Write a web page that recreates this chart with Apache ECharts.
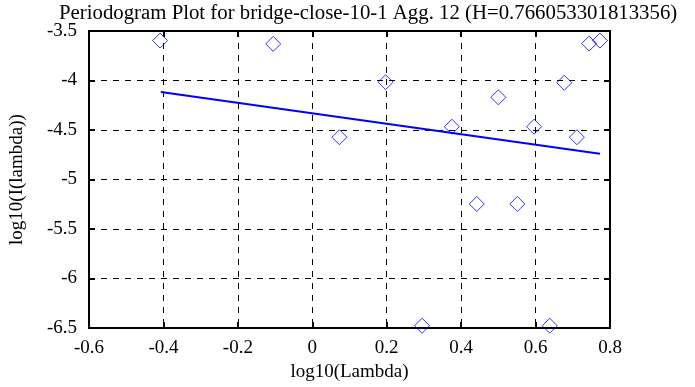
<!DOCTYPE html>
<html><head><meta charset="utf-8">
<script src="https://cdn.jsdelivr.net/npm/echarts@6/dist/echarts.min.js"></script>
<style>html,body{margin:0;padding:0;background:#fff}#c{width:695px;height:387px}</style>
</head><body><div id="c"></div>
<script>
var titleText = "Periodogram Plot for bridge-close-10-1 Agg. 12 (H=0.766053301813356)";
var xName = "log10(Lambda)";
var yName = "log10(I(lambda))";
var pointsX = [-0.409, -0.105, 0.073, 0.197, 0.375, 0.500, 0.596, 0.677, 0.711, 0.744, 0.773, 0.442, 0.551, 0.295, 0.638];
var pointsY = [-3.597, -3.630, -4.573, -4.017, -4.467, -4.170, -4.467, -4.023, -4.573, -3.627, -3.597, -5.247, -5.247, -6.477, -6.477];
var fitX = [-0.407, 0.773];
var fitY = [-4.117, -4.740];

var pts = pointsX.map(function(x,i){return [x, pointsY[i]];});
var fit = fitX.map(function(x,i){return [x, fitY[i]];});
var font = "Liberation Serif";
var chart = echarts.init(document.getElementById('c'));
var tickCommon = {show:true, inside:true, length:6, lineStyle:{color:'#000', width:2}};
chart.setOption({
  animation:false,
  backgroundColor:'#fff',
  title:{text:titleText, left:54, top:-2, textStyle:{fontFamily:font, fontSize:20.8, fontWeight:'normal', color:'#000'}},
  grid:{left:84, right:85, top:31, bottom:56, show:true, borderColor:'#000', borderWidth:2},
  xAxis:[{type:'value', min:-0.6, max:0.8, interval:0.2, position:'bottom',
    name:xName, nameLocation:'middle', nameGap:35, nameTextStyle:{fontFamily:font, fontSize:19, color:'#000'},
    axisLine:{onZero:false, lineStyle:{color:'#000', width:2}}, axisTick:tickCommon,
    axisLabel:{fontFamily:font, fontSize:19, color:'#000', margin:11, formatter:function(v){return String(Math.round(v*10)/10);}},
    splitLine:{show:true, lineStyle:{color:'#000', type:[6,6], width:1}}},
   {type:'value', min:-0.6, max:0.8, interval:0.2, position:'top', axisLine:{show:false, onZero:false}, axisTick:tickCommon, axisLabel:{show:false}, splitLine:{show:false}}],
  yAxis:[{type:'value', min:-6.5, max:-3.5, interval:0.5, position:'left',
    name:yName, nameLocation:'middle', nameGap:62, nameRotate:90, nameTextStyle:{fontFamily:font, fontSize:19, color:'#000'},
    axisLine:{onZero:false, lineStyle:{color:'#000', width:2}}, axisTick:tickCommon,
    axisLabel:{fontFamily:font, fontSize:19, color:'#000', margin:12, padding:[4,0,0,0]},
    splitLine:{show:true, lineStyle:{color:'#000', type:[6,6], width:1}}},
   {type:'value', min:-6.5, max:-3.5, interval:0.5, position:'right', axisLine:{show:false, onZero:false}, axisTick:tickCommon, axisLabel:{show:false}, splitLine:{show:false}}],
  series:[
    {type:'scatter', data:pts, symbol:'diamond', symbolSize:[15,15], itemStyle:{color:'transparent', borderColor:'#0000ff', borderWidth:1}},
    {type:'line', data:fit, showSymbol:false, lineStyle:{color:'#0000ff', width:2}}
  ]
});
</script></body></html>
